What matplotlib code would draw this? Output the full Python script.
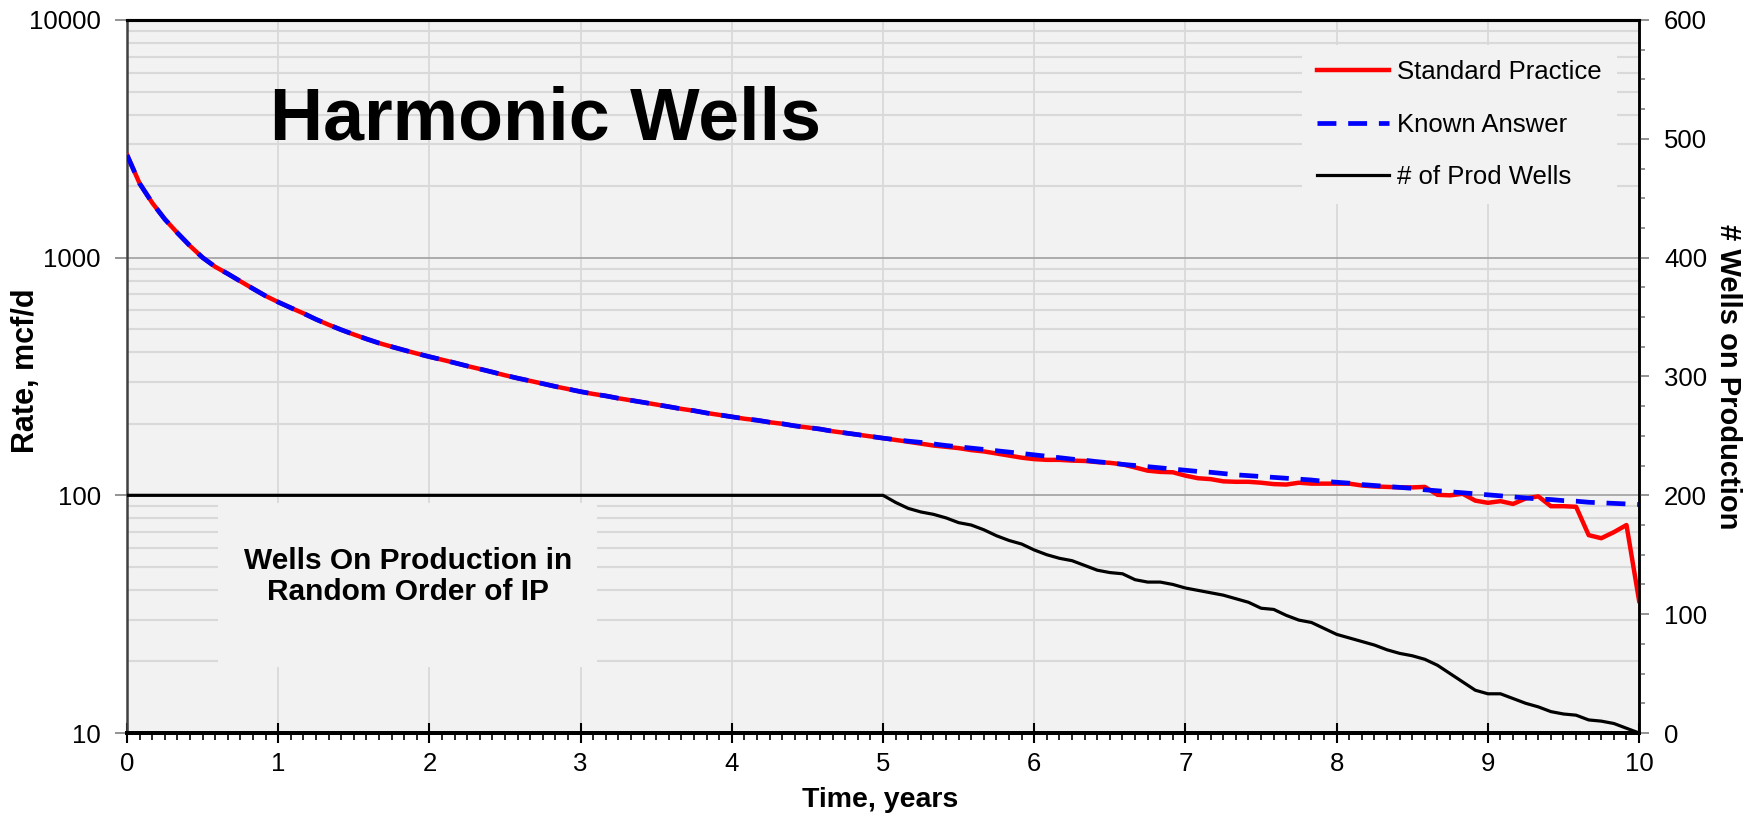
import numpy as np
import matplotlib
matplotlib.use("Agg")
import matplotlib.pyplot as plt
from matplotlib.patches import Rectangle
from matplotlib.ticker import LogLocator, NullFormatter

plt.rcParams['font.family'] = ['Liberation Sans', 'DejaVu Sans']

# monthly time axis, years
months = np.arange(121)
time_years = months / 12.0

# Known Answer, mcf/d (monthly)
known_answer = [
    2700, 2050, 1700, 1450, 1270, 1120, 1000, 915, 855, 795, 740, 690,
    650, 615, 583, 550, 522, 497, 475, 455, 437, 422, 408, 395,
    383, 372, 361, 350, 340, 330, 320, 311, 303, 295, 287, 280,
    273, 267, 262, 256, 251, 246, 241, 236, 231, 227, 222, 218,
    214, 210, 207, 203, 200, 196, 193, 190, 186, 183, 180, 177,
    174, 171.5, 169, 167, 164.5, 162, 160, 158, 156, 154, 152, 150,
    148, 146, 144, 142, 140.5, 138.5, 137, 135, 133.5, 132, 130.5, 129,
    127.5, 126, 125, 123.5, 122, 121, 120, 119, 118, 117, 116, 114.5,
    113.5, 112.5, 111, 110, 109, 108, 107, 105.5, 104.5, 103.5, 102.5, 101.5,
    100.5, 99.5, 98.5, 97.5, 96.5, 96, 95, 94.5, 93.5, 93, 92.5, 92,
    91.5,
]

# Standard Practice, mcf/d (monthly)
standard_practice = known_answer[:61] + [
    171, 168, 165, 162, 160, 158, 155, 153, 150, 147, 144,
    142, 141, 141, 140, 139.5, 138, 137, 135, 131, 127, 125.5, 125,
    121, 118, 117, 114.5, 114, 114, 113, 111.5, 111, 113, 112, 112,
    112, 112, 110, 109, 108.5, 108, 108, 108.5, 100.5, 100, 101.5, 95,
    93, 94.5, 92, 97, 99, 90, 90, 89.5, 68, 66, 70, 75,
    36,
]

# number of producing wells (monthly)
prod_wells = [200] * 61 + [
    194, 189, 186, 184, 181, 177, 175, 171, 166, 162, 159,
    154, 150, 147, 145, 141, 137, 135, 134, 129, 127, 127, 125,
    122, 120, 118, 116, 113, 110, 105, 104, 99, 95, 93, 88,
    83, 80, 77, 74, 70, 67, 65, 62, 57, 50, 43, 36,
    33, 33, 29, 25, 22, 18, 16, 15, 11, 10, 8, 4,
    0,
]

fig = plt.figure(figsize=(17.6, 8.15), dpi=100)
ax = fig.add_axes([0.0722, 0.1006, 0.8591, 0.8749])
ax.set_facecolor('#f2f2f2')

ax.plot(time_years, standard_practice, color='#ff0000', lw=3.2, zorder=3,
        label='Standard Practice')
ax.plot(time_years, known_answer, color='#0000ff', lw=3.4, zorder=4,
        linestyle=(0, (4, 2.5)), label='Known Answer')

ax.set_yscale('log')
ax.set_ylim(10, 10000)
ax.set_xlim(0, 10)
ax.set_yticks([10, 100, 1000, 10000])
ax.set_yticklabels(['10', '100', '1000', '10000'])
ax.yaxis.set_minor_locator(LogLocator(base=10, subs=np.arange(2, 10)))
ax.yaxis.set_minor_formatter(NullFormatter())
ax.set_xticks(np.arange(0, 11))
ax.set_xticks(months / 12.0, minor=True)

ax.set_axisbelow(True)
ax.grid(which='major', axis='y', color='#a6a6a6', lw=1.3)
ax.grid(which='minor', axis='y', color='#d9d9d9', lw=1.5)
ax.grid(which='major', axis='x', color='#d9d9d9', lw=1.3)

ax.tick_params(axis='y', which='major', direction='out', length=9, width=1.2,
               color='#808080', labelsize=18.5, pad=10)
ax.tick_params(axis='y', which='minor', length=0)
ax.tick_params(axis='x', which='major', direction='inout', length=15, width=1.5,
               color='black', labelsize=18.5, pad=6)
ax.tick_params(axis='x', which='minor', direction='out', length=5, width=1.2,
               color='black')

ax.spines['left'].set_color('#404040')
ax.spines['left'].set_linewidth(1.8)

# box behind the annotation hiding the gridlines
ax.add_patch(Rectangle((0.0602, 0.0926), 0.2506, 0.23, transform=ax.transAxes,
                       facecolor='#f2f2f2', edgecolor='none', zorder=1))
ax.text(0.186, 0.2195, 'Wells On Production in\nRandom Order of IP',
        transform=ax.transAxes, ha='center', va='center', fontsize=21.5,
        fontweight='bold', linespacing=1.1, zorder=2)

ax2 = ax.twinx()
ax2.plot(time_years, prod_wells, color='black', lw=2.3, zorder=3,
         label='# of Prod Wells')
ax2.set_ylim(0, 600)
ax2.set_yticks(np.arange(0, 601, 100))
ax2.set_yticks(np.arange(0, 601, 25), minor=True)
ax2.tick_params(axis='y', which='major', direction='out', length=7, width=1.2,
                color='#808080', labelsize=18.5, pad=11)
ax2.tick_params(axis='y', which='minor', direction='out', length=4, width=1.2,
                color='#808080')

for a in (ax, ax2):
    a.spines['top'].set_color('black')
    a.spines['top'].set_linewidth(2.2)
    a.spines['bottom'].set_color('black')
    a.spines['bottom'].set_linewidth(2.8)
    a.spines['right'].set_color('black')
    a.spines['right'].set_linewidth(1.8)
ax2.spines['left'].set_visible(False)

h1, l1 = ax.get_legend_handles_labels()
h2, l2 = ax2.get_legend_handles_labels()
leg = ax2.legend(h1 + h2, l1 + l2, loc='upper right',
                 bbox_to_anchor=(0.9854, 0.965), borderaxespad=0,
                 fontsize=18.5, frameon=True, facecolor='#f2f2f2',
                 edgecolor='none', framealpha=1, fancybox=False,
                 handlelength=2.8, handletextpad=0.3, labelspacing=1.1,
                 borderpad=0.6)

fig.text(0.310, 0.8294, 'Harmonic Wells', ha='center', va='baseline',
         fontsize=53, fontweight='bold')
fig.text(0.500, 0.0184, 'Time, years', ha='center', va='center',
         fontsize=20.5, fontweight='bold')
fig.text(0.0145, 0.545, 'Rate, mcf/d', ha='center', va='center', rotation=90,
         fontsize=22, fontweight='bold')
fig.text(0.982, 0.538, '# Wells on Production', ha='center', va='center',
         rotation=270, fontsize=21, fontweight='bold')

fig.savefig('out.png', dpi=100)
